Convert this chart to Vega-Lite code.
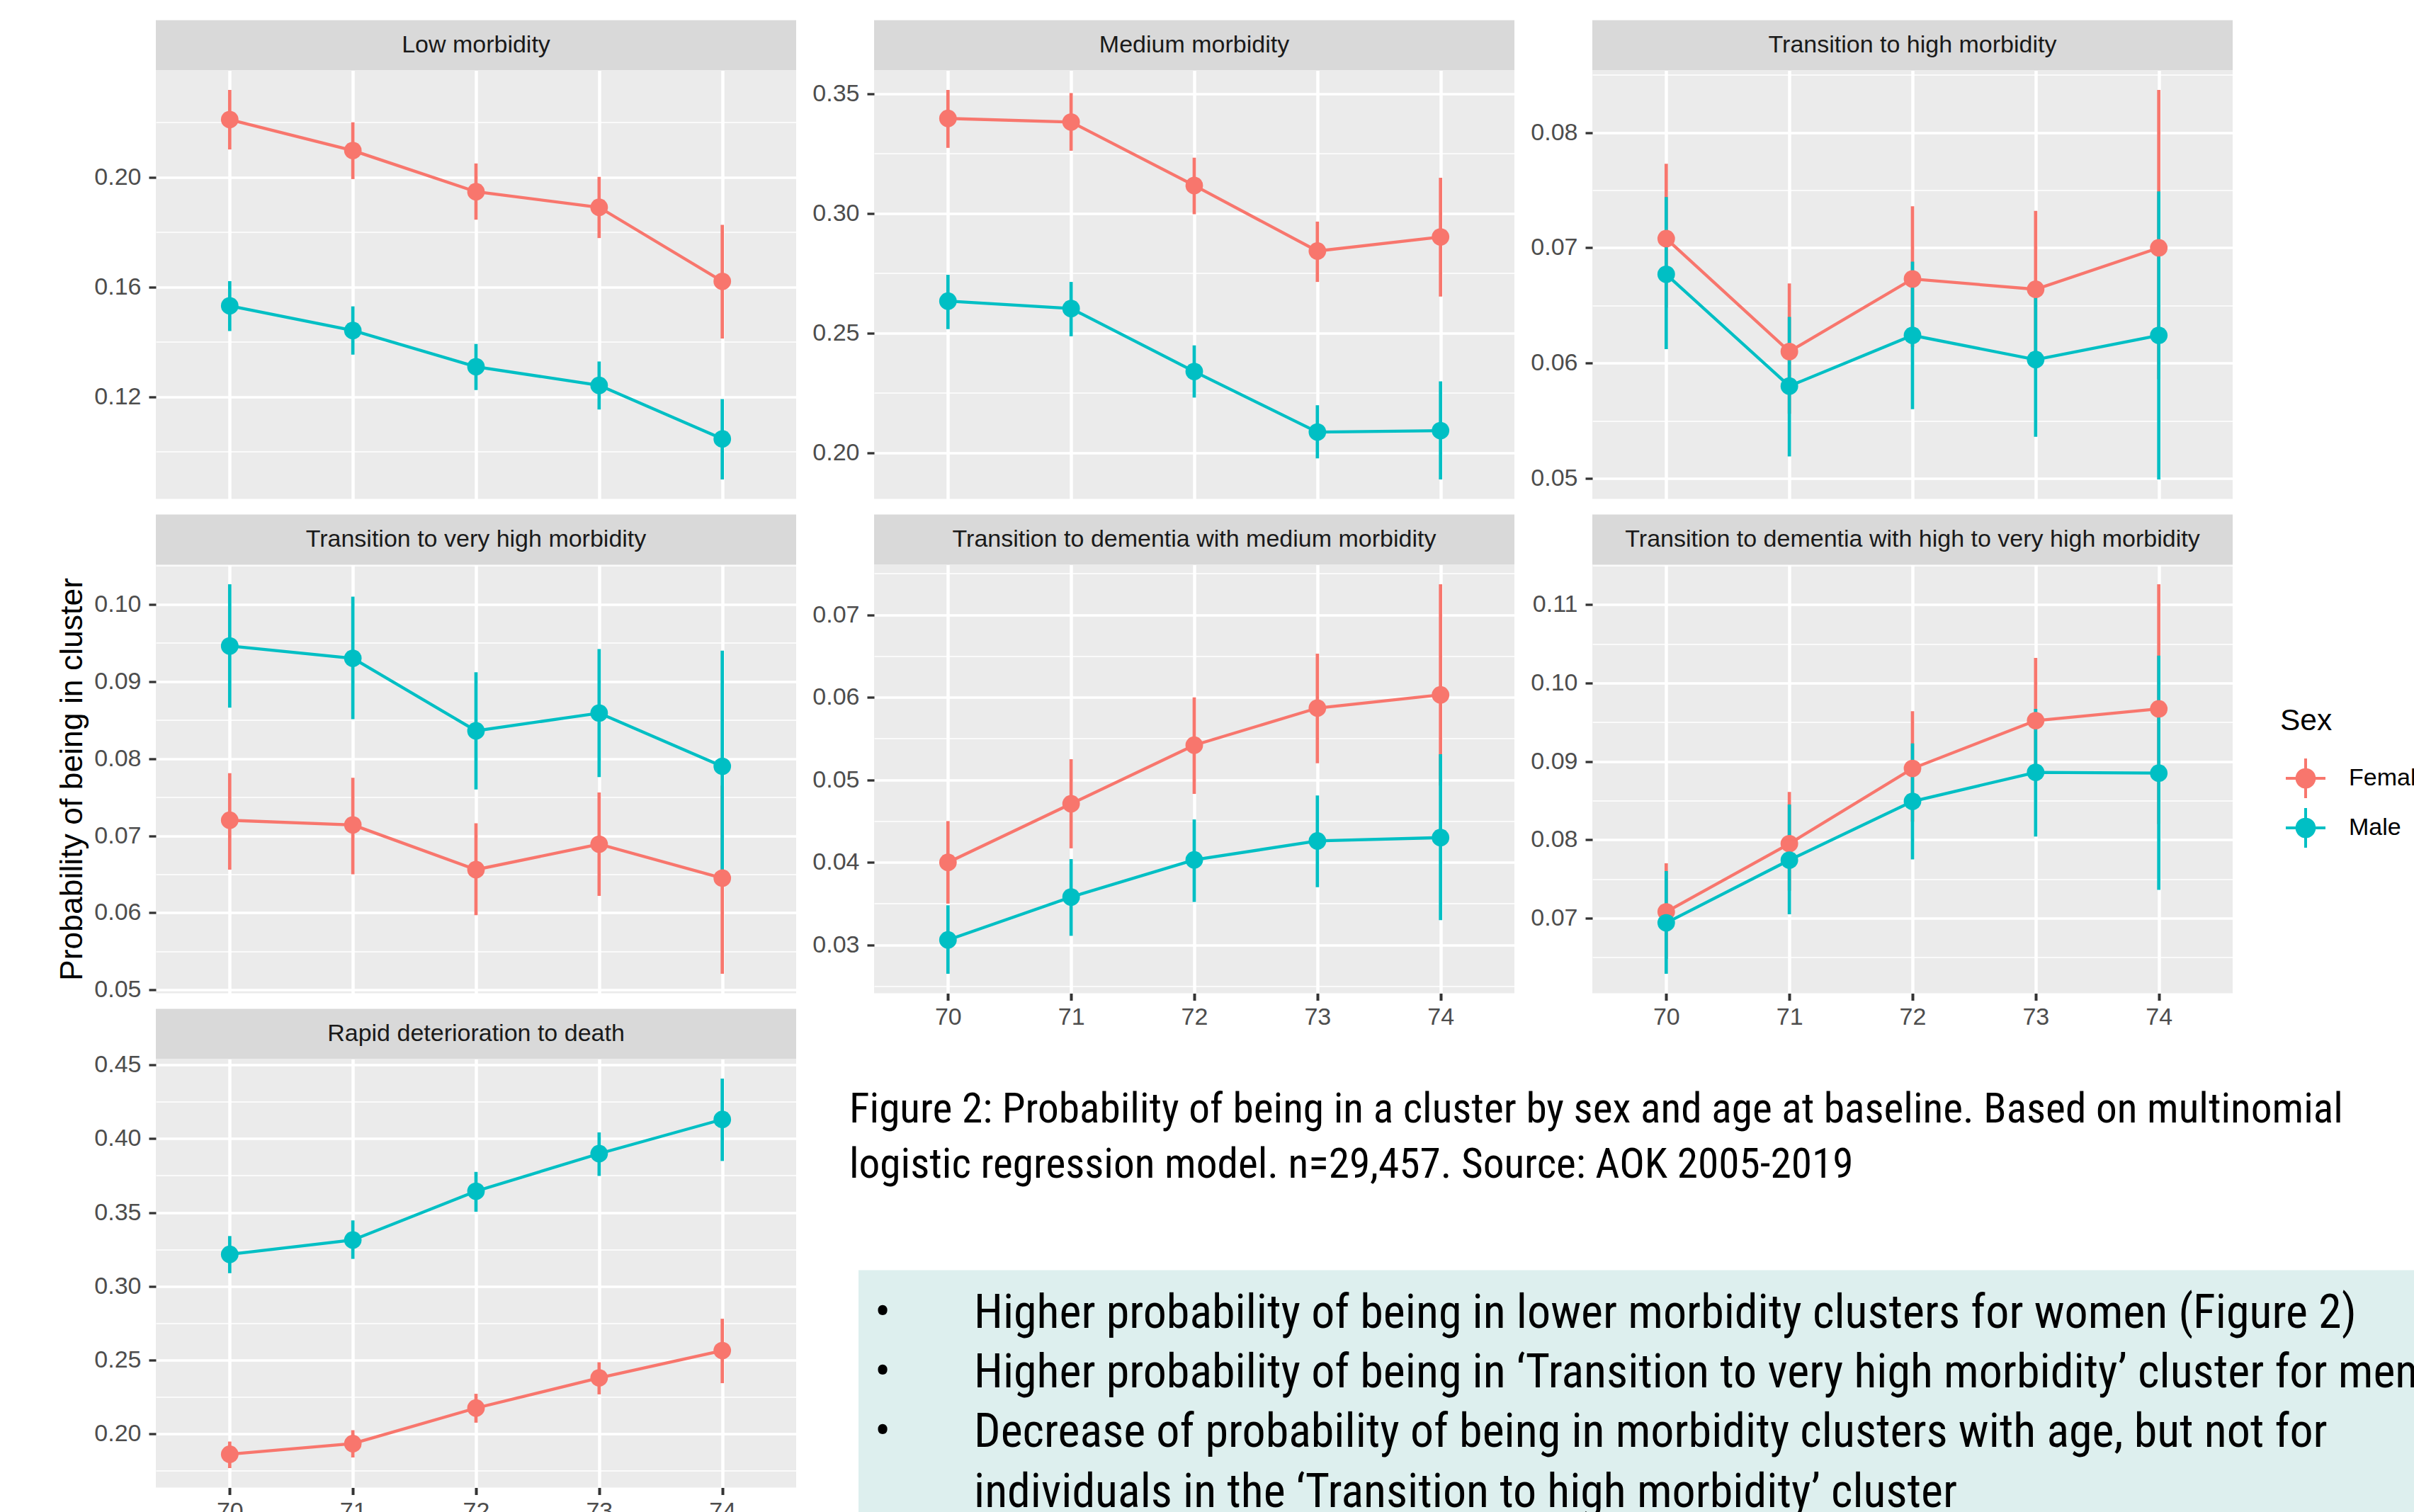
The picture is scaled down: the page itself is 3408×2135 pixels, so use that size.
{
  "$schema": "https://vega.github.io/schema/vega-lite/v6.json",
  "background": "white",
  "padding": {"left": 79, "top": 28.5, "right": 0, "bottom": 0},
  "autosize": {"type": "pad"},
  "config": {
    "view": {"stroke": null},
    "font": "Liberation Sans",
    "axis": {"domain": false, "gridColor": "white", "tickColor": "#333333", "labelColor": "#4D4D4D", "labelFontSize": 34, "labelFont": "Liberation Sans", "titleFont": "Liberation Sans", "titleFontWeight": "normal", "titleFontSize": 44.5, "titleColor": "black"},
    "axisX": {"gridWidth": 4.5, "tickWidth": 4, "tickSize": 10, "labelPadding": 7},
    "axisY": {"tickWidth": 3.3, "tickSize": 10, "labelPadding": 11}
  },
  "datasets": {
    "d": [
      {"Cluster": "Low morbidity", "Sex": "Female", "age": 70, "p": 0.2210, "lo": 0.2101, "hi": 0.2318},
      {"Cluster": "Low morbidity", "Sex": "Female", "age": 71, "p": 0.2097, "lo": 0.1993, "hi": 0.2200},
      {"Cluster": "Low morbidity", "Sex": "Female", "age": 72, "p": 0.1947, "lo": 0.1845, "hi": 0.2050},
      {"Cluster": "Low morbidity", "Sex": "Female", "age": 73, "p": 0.1890, "lo": 0.1778, "hi": 0.2001},
      {"Cluster": "Low morbidity", "Sex": "Female", "age": 74, "p": 0.1620, "lo": 0.1412, "hi": 0.1826},
      {"Cluster": "Low morbidity", "Sex": "Male", "age": 70, "p": 0.1531, "lo": 0.1439, "hi": 0.1621},
      {"Cluster": "Low morbidity", "Sex": "Male", "age": 71, "p": 0.1441, "lo": 0.1353, "hi": 0.1529},
      {"Cluster": "Low morbidity", "Sex": "Male", "age": 72, "p": 0.1309, "lo": 0.1224, "hi": 0.1392},
      {"Cluster": "Low morbidity", "Sex": "Male", "age": 73, "p": 0.1241, "lo": 0.1153, "hi": 0.1328},
      {"Cluster": "Low morbidity", "Sex": "Male", "age": 74, "p": 0.1046, "lo": 0.0898, "hi": 0.1191},

      {"Cluster": "Medium morbidity", "Sex": "Female", "age": 70, "p": 0.3397, "lo": 0.3274, "hi": 0.3516},
      {"Cluster": "Medium morbidity", "Sex": "Female", "age": 71, "p": 0.3382, "lo": 0.3262, "hi": 0.3503},
      {"Cluster": "Medium morbidity", "Sex": "Female", "age": 72, "p": 0.3117, "lo": 0.2997, "hi": 0.3233},
      {"Cluster": "Medium morbidity", "Sex": "Female", "age": 73, "p": 0.2843, "lo": 0.2714, "hi": 0.2966},
      {"Cluster": "Medium morbidity", "Sex": "Female", "age": 74, "p": 0.2902, "lo": 0.2653, "hi": 0.3149},
      {"Cluster": "Medium morbidity", "Sex": "Male", "age": 70, "p": 0.2634, "lo": 0.2517, "hi": 0.2744},
      {"Cluster": "Medium morbidity", "Sex": "Male", "age": 71, "p": 0.2603, "lo": 0.2487, "hi": 0.2714},
      {"Cluster": "Medium morbidity", "Sex": "Male", "age": 72, "p": 0.2340, "lo": 0.2231, "hi": 0.2449},
      {"Cluster": "Medium morbidity", "Sex": "Male", "age": 73, "p": 0.2087, "lo": 0.1977, "hi": 0.2199},
      {"Cluster": "Medium morbidity", "Sex": "Male", "age": 74, "p": 0.2093, "lo": 0.1889, "hi": 0.2299},

      {"Cluster": "Transition to high morbidity", "Sex": "Female", "age": 70, "p": 0.0708, "lo": 0.0648, "hi": 0.0773},
      {"Cluster": "Transition to high morbidity", "Sex": "Female", "age": 71, "p": 0.0610, "lo": 0.0556, "hi": 0.0669},
      {"Cluster": "Transition to high morbidity", "Sex": "Female", "age": 72, "p": 0.0673, "lo": 0.0614, "hi": 0.0736},
      {"Cluster": "Transition to high morbidity", "Sex": "Female", "age": 73, "p": 0.0664, "lo": 0.0604, "hi": 0.0732},
      {"Cluster": "Transition to high morbidity", "Sex": "Female", "age": 74, "p": 0.0700, "lo": 0.0586, "hi": 0.0837},
      {"Cluster": "Transition to high morbidity", "Sex": "Male", "age": 70, "p": 0.0677, "lo": 0.0612, "hi": 0.0744},
      {"Cluster": "Transition to high morbidity", "Sex": "Male", "age": 71, "p": 0.0580, "lo": 0.0519, "hi": 0.0640},
      {"Cluster": "Transition to high morbidity", "Sex": "Male", "age": 72, "p": 0.0624, "lo": 0.0560, "hi": 0.0688},
      {"Cluster": "Transition to high morbidity", "Sex": "Male", "age": 73, "p": 0.0603, "lo": 0.0536, "hi": 0.0670},
      {"Cluster": "Transition to high morbidity", "Sex": "Male", "age": 74, "p": 0.0624, "lo": 0.0499, "hi": 0.0749},

      {"Cluster": "Transition to very high morbidity", "Sex": "Female", "age": 70, "p": 0.0720, "lo": 0.0656, "hi": 0.0781},
      {"Cluster": "Transition to very high morbidity", "Sex": "Female", "age": 71, "p": 0.0714, "lo": 0.0650, "hi": 0.0775},
      {"Cluster": "Transition to very high morbidity", "Sex": "Female", "age": 72, "p": 0.0656, "lo": 0.0597, "hi": 0.0716},
      {"Cluster": "Transition to very high morbidity", "Sex": "Female", "age": 73, "p": 0.0689, "lo": 0.0622, "hi": 0.0756},
      {"Cluster": "Transition to very high morbidity", "Sex": "Female", "age": 74, "p": 0.0645, "lo": 0.0521, "hi": 0.0765},
      {"Cluster": "Transition to very high morbidity", "Sex": "Male", "age": 70, "p": 0.0946, "lo": 0.0866, "hi": 0.1026},
      {"Cluster": "Transition to very high morbidity", "Sex": "Male", "age": 71, "p": 0.0930, "lo": 0.0851, "hi": 0.1010},
      {"Cluster": "Transition to very high morbidity", "Sex": "Male", "age": 72, "p": 0.0836, "lo": 0.0760, "hi": 0.0912},
      {"Cluster": "Transition to very high morbidity", "Sex": "Male", "age": 73, "p": 0.0859, "lo": 0.0776, "hi": 0.0942},
      {"Cluster": "Transition to very high morbidity", "Sex": "Male", "age": 74, "p": 0.0790, "lo": 0.0656, "hi": 0.0940},

      {"Cluster": "Transition to dementia with medium morbidity", "Sex": "Female", "age": 70, "p": 0.0400, "lo": 0.0350, "hi": 0.0450},
      {"Cluster": "Transition to dementia with medium morbidity", "Sex": "Female", "age": 71, "p": 0.0471, "lo": 0.0417, "hi": 0.0525},
      {"Cluster": "Transition to dementia with medium morbidity", "Sex": "Female", "age": 72, "p": 0.0542, "lo": 0.0483, "hi": 0.0600},
      {"Cluster": "Transition to dementia with medium morbidity", "Sex": "Female", "age": 73, "p": 0.0587, "lo": 0.0520, "hi": 0.0653},
      {"Cluster": "Transition to dementia with medium morbidity", "Sex": "Female", "age": 74, "p": 0.0603, "lo": 0.0493, "hi": 0.0737},
      {"Cluster": "Transition to dementia with medium morbidity", "Sex": "Male", "age": 70, "p": 0.0306, "lo": 0.0265, "hi": 0.0348},
      {"Cluster": "Transition to dementia with medium morbidity", "Sex": "Male", "age": 71, "p": 0.0358, "lo": 0.0311, "hi": 0.0404},
      {"Cluster": "Transition to dementia with medium morbidity", "Sex": "Male", "age": 72, "p": 0.0403, "lo": 0.0352, "hi": 0.0452},
      {"Cluster": "Transition to dementia with medium morbidity", "Sex": "Male", "age": 73, "p": 0.0426, "lo": 0.0370, "hi": 0.0481},
      {"Cluster": "Transition to dementia with medium morbidity", "Sex": "Male", "age": 74, "p": 0.0430, "lo": 0.0330, "hi": 0.0531},

      {"Cluster": "Transition to dementia with high to very high morbidity", "Sex": "Female", "age": 70, "p": 0.0708, "lo": 0.0648, "hi": 0.0770},
      {"Cluster": "Transition to dementia with high to very high morbidity", "Sex": "Female", "age": 71, "p": 0.0795, "lo": 0.0735, "hi": 0.0861},
      {"Cluster": "Transition to dementia with high to very high morbidity", "Sex": "Female", "age": 72, "p": 0.0891, "lo": 0.0823, "hi": 0.0964},
      {"Cluster": "Transition to dementia with high to very high morbidity", "Sex": "Female", "age": 73, "p": 0.0952, "lo": 0.0875, "hi": 0.1032},
      {"Cluster": "Transition to dementia with high to very high morbidity", "Sex": "Female", "age": 74, "p": 0.0967, "lo": 0.0820, "hi": 0.1126},
      {"Cluster": "Transition to dementia with high to very high morbidity", "Sex": "Male", "age": 70, "p": 0.0694, "lo": 0.0629, "hi": 0.0760},
      {"Cluster": "Transition to dementia with high to very high morbidity", "Sex": "Male", "age": 71, "p": 0.0774, "lo": 0.0705, "hi": 0.0845},
      {"Cluster": "Transition to dementia with high to very high morbidity", "Sex": "Male", "age": 72, "p": 0.0849, "lo": 0.0775, "hi": 0.0923},
      {"Cluster": "Transition to dementia with high to very high morbidity", "Sex": "Male", "age": 73, "p": 0.0886, "lo": 0.0804, "hi": 0.0967},
      {"Cluster": "Transition to dementia with high to very high morbidity", "Sex": "Male", "age": 74, "p": 0.0885, "lo": 0.0736, "hi": 0.1035},

      {"Cluster": "Rapid deterioration to death", "Sex": "Female", "age": 70, "p": 0.1860, "lo": 0.1766, "hi": 0.1946},
      {"Cluster": "Rapid deterioration to death", "Sex": "Female", "age": 71, "p": 0.1932, "lo": 0.1838, "hi": 0.2023},
      {"Cluster": "Rapid deterioration to death", "Sex": "Female", "age": 72, "p": 0.2173, "lo": 0.2074, "hi": 0.2270},
      {"Cluster": "Rapid deterioration to death", "Sex": "Female", "age": 73, "p": 0.2378, "lo": 0.2266, "hi": 0.2484},
      {"Cluster": "Rapid deterioration to death", "Sex": "Female", "age": 74, "p": 0.2563, "lo": 0.2342, "hi": 0.2779},
      {"Cluster": "Rapid deterioration to death", "Sex": "Male", "age": 70, "p": 0.3216, "lo": 0.3088, "hi": 0.3340},
      {"Cluster": "Rapid deterioration to death", "Sex": "Male", "age": 71, "p": 0.3313, "lo": 0.3185, "hi": 0.3446},
      {"Cluster": "Rapid deterioration to death", "Sex": "Male", "age": 72, "p": 0.3644, "lo": 0.3505, "hi": 0.3775},
      {"Cluster": "Rapid deterioration to death", "Sex": "Male", "age": 73, "p": 0.3899, "lo": 0.3748, "hi": 0.4043},
      {"Cluster": "Rapid deterioration to death", "Sex": "Male", "age": 74, "p": 0.4131, "lo": 0.3849, "hi": 0.4408}
    ]
  },
  "vconcat": [
    {
      "hconcat": [
        {
          "vconcat": [
            {"width": 904, "height": 71, "view": {"fill": "#D9D9D9", "stroke": null}, "data": {"values": [{"label": "Low morbidity"}]}, "mark": {"type": "text", "font": "Liberation Sans", "fontSize": 34, "color": "#1A1A1A"}, "encoding": {"text": {"field": "label", "type": "nominal"}}},
            {
              "width": 904, "height": 605, "view": {"fill": "#EBEBEB", "stroke": null},
              "data": {"name": "d"},
              "transform": [{"filter": "datum.Cluster === 'Low morbidity'"}],
              "encoding": {
                "x": {"field": "age", "type": "quantitative", "scale": {"domain": [69.4, 74.6], "nice": false, "zero": false}, "axis": {"values": [70, 71, 72, 73, 74], "title": null, "labels": false, "ticks": false, "grid": true}},
                "y": {"field": "p", "type": "quantitative", "scale": {"zero": false, "nice": false, "padding": 27.5}, "axis": {"values": [0.10, 0.12, 0.14, 0.16, 0.18, 0.20, 0.22], "title": null, "labelExpr": "round(datum.value*1000) % 40 == 0 ? format(datum.value, '.2f') : ''", "gridWidth": {"condition": {"test": "round(datum.value*1000) % 40 == 0", "value": 3.3}, "value": 1.7}, "tickOpacity": {"condition": {"test": "round(datum.value*1000) % 40 == 0", "value": 1}, "value": 0}}},
                "color": {"field": "Sex", "type": "nominal", "scale": {"domain": ["Female", "Male"], "range": ["#F8766D", "#00BFC4"]},
                  "legend": {"orient": "none", "legendX": 2999, "legendY": 968, "symbolType": "M-1,0L1,0M0,-1L0,1M0.44,0A0.44,0.44,0,1,1,-0.44,0A0.44,0.44,0,1,1,0.44,0Z", "symbolSize": 3136, "symbolStrokeWidth": 4, "symbolOffset": 6, "labelOffset": 31, "labelFontSize": 34, "labelColor": "black", "labelFont": "Liberation Sans", "titleFontSize": 42.5, "titleFont": "Liberation Sans", "titleFontWeight": "normal", "titleColor": "black", "titlePadding": 30, "rowPadding": -2, "padding": 0,
                    "encode": {"symbols": {"update": {"fill": {"scale": "color", "field": "value"}, "stroke": {"scale": "color", "field": "value"}, "strokeWidth": {"value": 4}, "opacity": {"value": 1}, "fillOpacity": {"value": 1}, "strokeOpacity": {"value": 1}}}}}}
              },
              "layer": [
                {"mark": {"type": "rule", "strokeWidth": 4.7}, "encoding": {"y": {"field": "lo", "type": "quantitative", "scale": {"zero": false, "nice": false, "padding": 27.5}}, "y2": {"field": "hi"}}},
                {"mark": {"type": "line", "strokeWidth": 4.3}, "encoding": {}},
                {"mark": {"type": "point", "filled": true, "size": 615, "opacity": 1}, "encoding": {}}
              ]
            }
          ],
          "spacing": 0, "bounds": "flush"
        },
        {
          "vconcat": [
            {"width": 904, "height": 71, "view": {"fill": "#D9D9D9", "stroke": null}, "data": {"values": [{"label": "Medium morbidity"}]}, "mark": {"type": "text", "font": "Liberation Sans", "fontSize": 34, "color": "#1A1A1A"}, "encoding": {"text": {"field": "label", "type": "nominal"}}},
            {
              "width": 904, "height": 605, "view": {"fill": "#EBEBEB", "stroke": null},
              "data": {"name": "d"},
              "transform": [{"filter": "datum.Cluster === 'Medium morbidity'"}],
              "encoding": {
                "x": {"field": "age", "type": "quantitative", "scale": {"domain": [69.4, 74.6], "nice": false, "zero": false}, "axis": {"values": [70, 71, 72, 73, 74], "title": null, "labels": false, "ticks": false, "grid": true}},
                "y": {"field": "p", "type": "quantitative", "scale": {"zero": false, "nice": false, "padding": 27.5}, "axis": {"values": [0.175, 0.20, 0.225, 0.25, 0.275, 0.30, 0.325, 0.35, 0.375], "title": null, "labelExpr": "round(datum.value*1000) % 50 == 0 ? format(datum.value, '.2f') : ''", "gridWidth": {"condition": {"test": "round(datum.value*1000) % 50 == 0", "value": 3.3}, "value": 1.7}, "tickOpacity": {"condition": {"test": "round(datum.value*1000) % 50 == 0", "value": 1}, "value": 0}}},
                "color": {"field": "Sex", "type": "nominal", "scale": {"domain": ["Female", "Male"], "range": ["#F8766D", "#00BFC4"]}, "legend": null}
              },
              "layer": [
                {"mark": {"type": "rule", "strokeWidth": 4.7}, "encoding": {"y": {"field": "lo", "type": "quantitative", "scale": {"zero": false, "nice": false, "padding": 27.5}}, "y2": {"field": "hi"}}},
                {"mark": {"type": "line", "strokeWidth": 4.3}, "encoding": {}},
                {"mark": {"type": "point", "filled": true, "size": 615, "opacity": 1}, "encoding": {}}
              ]
            }
          ],
          "spacing": 0, "bounds": "flush"
        },
        {
          "vconcat": [
            {"width": 904, "height": 71, "view": {"fill": "#D9D9D9", "stroke": null}, "data": {"values": [{"label": "Transition to high morbidity"}]}, "mark": {"type": "text", "font": "Liberation Sans", "fontSize": 34, "color": "#1A1A1A"}, "encoding": {"text": {"field": "label", "type": "nominal"}}},
            {
              "width": 904, "height": 605, "view": {"fill": "#EBEBEB", "stroke": null},
              "data": {"name": "d"},
              "transform": [{"filter": "datum.Cluster === 'Transition to high morbidity'"}],
              "encoding": {
                "x": {"field": "age", "type": "quantitative", "scale": {"domain": [69.4, 74.6], "nice": false, "zero": false}, "axis": {"values": [70, 71, 72, 73, 74], "title": null, "labels": false, "ticks": false, "grid": true}},
                "y": {"field": "p", "type": "quantitative", "scale": {"zero": false, "nice": false, "padding": 27.5}, "axis": {"values": [0.045, 0.05, 0.055, 0.06, 0.065, 0.07, 0.075, 0.08, 0.085], "title": null, "labelExpr": "round(datum.value*1000) % 10 == 0 ? format(datum.value, '.2f') : ''", "gridWidth": {"condition": {"test": "round(datum.value*1000) % 10 == 0", "value": 3.3}, "value": 1.7}, "tickOpacity": {"condition": {"test": "round(datum.value*1000) % 10 == 0", "value": 1}, "value": 0}}},
                "color": {"field": "Sex", "type": "nominal", "scale": {"domain": ["Female", "Male"], "range": ["#F8766D", "#00BFC4"]}, "legend": null}
              },
              "layer": [
                {"mark": {"type": "rule", "strokeWidth": 4.7}, "encoding": {"y": {"field": "lo", "type": "quantitative", "scale": {"zero": false, "nice": false, "padding": 27.5}}, "y2": {"field": "hi"}}},
                {"mark": {"type": "line", "strokeWidth": 4.3}, "encoding": {}},
                {"mark": {"type": "point", "filled": true, "size": 615, "opacity": 1}, "encoding": {}}
              ]
            }
          ],
          "spacing": 0, "bounds": "flush"
        }
      ],
      "spacing": 1014, "bounds": "flush"
    },
    {
      "hconcat": [
        {
          "vconcat": [
            {"width": 904, "height": 71, "view": {"fill": "#D9D9D9", "stroke": null}, "data": {"values": [{"label": "Transition to very high morbidity"}]}, "mark": {"type": "text", "font": "Liberation Sans", "fontSize": 34, "color": "#1A1A1A"}, "encoding": {"text": {"field": "label", "type": "nominal"}}},
            {
              "width": 904, "height": 605, "view": {"fill": "#EBEBEB", "stroke": null},
              "data": {"name": "d"},
              "transform": [{"filter": "datum.Cluster === 'Transition to very high morbidity'"}],
              "encoding": {
                "x": {"field": "age", "type": "quantitative", "scale": {"domain": [69.4, 74.6], "nice": false, "zero": false}, "axis": {"values": [70, 71, 72, 73, 74], "title": null, "labels": false, "ticks": false, "grid": true}},
                "y": {"field": "p", "type": "quantitative", "scale": {"zero": false, "nice": false, "padding": 27.5}, "axis": {"values": [0.045, 0.05, 0.055, 0.06, 0.065, 0.07, 0.075, 0.08, 0.085, 0.09, 0.095, 0.10, 0.105], "title": "Probability of being in cluster", "titlePadding": 8, "labelExpr": "round(datum.value*1000) % 10 == 0 ? format(datum.value, '.2f') : ''", "gridWidth": {"condition": {"test": "round(datum.value*1000) % 10 == 0", "value": 3.3}, "value": 1.7}, "tickOpacity": {"condition": {"test": "round(datum.value*1000) % 10 == 0", "value": 1}, "value": 0}}},
                "color": {"field": "Sex", "type": "nominal", "scale": {"domain": ["Female", "Male"], "range": ["#F8766D", "#00BFC4"]}, "legend": null}
              },
              "layer": [
                {"mark": {"type": "rule", "strokeWidth": 4.7}, "encoding": {"y": {"field": "lo", "type": "quantitative", "scale": {"zero": false, "nice": false, "padding": 27.5}}, "y2": {"field": "hi"}}},
                {"mark": {"type": "line", "strokeWidth": 4.3}, "encoding": {}},
                {"mark": {"type": "point", "filled": true, "size": 615, "opacity": 1}, "encoding": {}}
              ]
            }
          ],
          "spacing": 0, "bounds": "flush"
        },
        {
          "vconcat": [
            {"width": 904, "height": 71, "view": {"fill": "#D9D9D9", "stroke": null}, "data": {"values": [{"label": "Transition to dementia with medium morbidity"}]}, "mark": {"type": "text", "font": "Liberation Sans", "fontSize": 34, "color": "#1A1A1A"}, "encoding": {"text": {"field": "label", "type": "nominal"}}},
            {
              "width": 904, "height": 605, "view": {"fill": "#EBEBEB", "stroke": null},
              "data": {"name": "d"},
              "transform": [{"filter": "datum.Cluster === 'Transition to dementia with medium morbidity'"}],
              "encoding": {
                "x": {"field": "age", "type": "quantitative", "scale": {"domain": [69.4, 74.6], "nice": false, "zero": false}, "axis": {"values": [70, 71, 72, 73, 74], "format": "d", "title": null, "labels": true, "ticks": true, "grid": true}},
                "y": {"field": "p", "type": "quantitative", "scale": {"zero": false, "nice": false, "padding": 27.5}, "axis": {"values": [0.025, 0.03, 0.035, 0.04, 0.045, 0.05, 0.055, 0.06, 0.065, 0.07, 0.075], "title": null, "labelExpr": "round(datum.value*1000) % 10 == 0 ? format(datum.value, '.2f') : ''", "gridWidth": {"condition": {"test": "round(datum.value*1000) % 10 == 0", "value": 3.3}, "value": 1.7}, "tickOpacity": {"condition": {"test": "round(datum.value*1000) % 10 == 0", "value": 1}, "value": 0}}},
                "color": {"field": "Sex", "type": "nominal", "scale": {"domain": ["Female", "Male"], "range": ["#F8766D", "#00BFC4"]}, "legend": null}
              },
              "layer": [
                {"mark": {"type": "rule", "strokeWidth": 4.7}, "encoding": {"y": {"field": "lo", "type": "quantitative", "scale": {"zero": false, "nice": false, "padding": 27.5}}, "y2": {"field": "hi"}}},
                {"mark": {"type": "line", "strokeWidth": 4.3}, "encoding": {}},
                {"mark": {"type": "point", "filled": true, "size": 615, "opacity": 1}, "encoding": {}}
              ]
            }
          ],
          "spacing": 0, "bounds": "flush"
        },
        {
          "vconcat": [
            {"width": 904, "height": 71, "view": {"fill": "#D9D9D9", "stroke": null}, "data": {"values": [{"label": "Transition to dementia with high to very high morbidity"}]}, "mark": {"type": "text", "font": "Liberation Sans", "fontSize": 34, "color": "#1A1A1A"}, "encoding": {"text": {"field": "label", "type": "nominal"}}},
            {
              "width": 904, "height": 605, "view": {"fill": "#EBEBEB", "stroke": null},
              "data": {"name": "d"},
              "transform": [{"filter": "datum.Cluster === 'Transition to dementia with high to very high morbidity'"}],
              "encoding": {
                "x": {"field": "age", "type": "quantitative", "scale": {"domain": [69.4, 74.6], "nice": false, "zero": false}, "axis": {"values": [70, 71, 72, 73, 74], "format": "d", "title": null, "labels": true, "ticks": true, "grid": true}},
                "y": {"field": "p", "type": "quantitative", "scale": {"zero": false, "nice": false, "padding": 27.5}, "axis": {"values": [0.065, 0.07, 0.075, 0.08, 0.085, 0.09, 0.095, 0.10, 0.105, 0.11, 0.115], "title": null, "labelExpr": "round(datum.value*1000) % 10 == 0 ? format(datum.value, '.2f') : ''", "gridWidth": {"condition": {"test": "round(datum.value*1000) % 10 == 0", "value": 3.3}, "value": 1.7}, "tickOpacity": {"condition": {"test": "round(datum.value*1000) % 10 == 0", "value": 1}, "value": 0}}},
                "color": {"field": "Sex", "type": "nominal", "scale": {"domain": ["Female", "Male"], "range": ["#F8766D", "#00BFC4"]}, "legend": null}
              },
              "layer": [
                {"mark": {"type": "rule", "strokeWidth": 4.7}, "encoding": {"y": {"field": "lo", "type": "quantitative", "scale": {"zero": false, "nice": false, "padding": 27.5}}, "y2": {"field": "hi"}}},
                {"mark": {"type": "line", "strokeWidth": 4.3}, "encoding": {}},
                {"mark": {"type": "point", "filled": true, "size": 615, "opacity": 1}, "encoding": {}}
              ]
            }
          ],
          "spacing": 0, "bounds": "flush"
        }
      ],
      "spacing": 1014, "bounds": "flush"
    },
    {
      "hconcat": [
        {
          "vconcat": [
            {"width": 904, "height": 71, "view": {"fill": "#D9D9D9", "stroke": null}, "data": {"values": [{"label": "Rapid deterioration to death"}]}, "mark": {"type": "text", "font": "Liberation Sans", "fontSize": 34, "color": "#1A1A1A"}, "encoding": {"text": {"field": "label", "type": "nominal"}}},
            {
              "width": 904, "height": 605, "view": {"fill": "#EBEBEB", "stroke": null},
              "data": {"name": "d"},
              "transform": [{"filter": "datum.Cluster === 'Rapid deterioration to death'"}],
              "encoding": {
                "x": {"field": "age", "type": "quantitative", "scale": {"domain": [69.4, 74.6], "nice": false, "zero": false}, "axis": {"values": [70, 71, 72, 73, 74], "format": "d", "title": null, "labels": true, "ticks": true, "grid": true}},
                "y": {"field": "p", "type": "quantitative", "scale": {"zero": false, "nice": false, "padding": 27.5}, "axis": {"values": [0.175, 0.20, 0.225, 0.25, 0.275, 0.30, 0.325, 0.35, 0.375, 0.40, 0.425, 0.45], "title": null, "labelExpr": "round(datum.value*1000) % 50 == 0 ? format(datum.value, '.2f') : ''", "gridWidth": {"condition": {"test": "round(datum.value*1000) % 50 == 0", "value": 3.3}, "value": 1.7}, "tickOpacity": {"condition": {"test": "round(datum.value*1000) % 50 == 0", "value": 1}, "value": 0}}},
                "color": {"field": "Sex", "type": "nominal", "scale": {"domain": ["Female", "Male"], "range": ["#F8766D", "#00BFC4"]}, "legend": null}
              },
              "layer": [
                {"mark": {"type": "rule", "strokeWidth": 4.7}, "encoding": {"y": {"field": "lo", "type": "quantitative", "scale": {"zero": false, "nice": false, "padding": 27.5}}, "y2": {"field": "hi"}}},
                {"mark": {"type": "line", "strokeWidth": 4.3}, "encoding": {}},
                {"mark": {"type": "point", "filled": true, "size": 615, "opacity": 1}, "encoding": {}}
              ]
            }
          ],
          "spacing": 0, "bounds": "flush"
        },
        {
          "vconcat": [
            {
              "width": 2200, "height": 369,
              "data": {"values": [
                {"line": 1, "text": "Figure 2: Probability of being in a cluster by sex and age at baseline. Based on multinomial"},
                {"line": 2, "text": "logistic regression model. n=29,457. Source: AOK 2005-2019"}
              ]},
              "mark": {"type": "text", "align": "left", "baseline": "alphabetic", "font": "Liberation Sans Narrow, Arial Narrow, Roboto Condensed, DejaVu Sans Condensed, sans-serif", "fontSize": 59.3, "color": "black", "dx": -13},
              "encoding": {
                "x": {"datum": 0, "type": "quantitative", "scale": {"domain": [0, 1]}, "axis": null},
                "y": {"field": "line", "type": "ordinal", "scale": {"type": "point", "range": [160, 238], "padding": 0}, "axis": null},
                "text": {"field": "text", "type": "nominal"}
              }
            },
            {
              "width": 2200, "height": 400, "view": {"fill": "#DDEFEE", "stroke": null},
              "data": {"values": [
                {"line": 1, "col": "bullet", "text": "•"},
                {"line": 1, "col": "text", "text": "Higher probability of being in lower morbidity clusters for women (Figure 2)"},
                {"line": 2, "col": "bullet", "text": "•"},
                {"line": 2, "col": "text", "text": "Higher probability of being in ‘Transition to very high morbidity’ cluster for men"},
                {"line": 3, "col": "bullet", "text": "•"},
                {"line": 3, "col": "text", "text": "Decrease of probability of being in morbidity clusters with age, but not for"},
                {"line": 4, "col": "text", "text": "individuals in the ‘Transition to high morbidity’ cluster"}
              ]},
              "mark": {"type": "text", "align": "left", "baseline": "alphabetic", "font": "Liberation Sans Narrow, Arial Narrow, Roboto Condensed, DejaVu Sans Condensed, sans-serif", "fontSize": 66, "color": "black"},
              "encoding": {
                "x": {"field": "col", "type": "nominal", "scale": {"type": "point", "domain": ["bullet", "text"], "range": [23, 163], "padding": 0}, "axis": null},
                "y": {"field": "line", "type": "ordinal", "scale": {"type": "point", "range": [81, 334], "padding": 0}, "axis": null},
                "text": {"field": "text", "type": "nominal"}
              }
            }
          ],
          "spacing": 0, "bounds": "flush"
        }
      ],
      "spacing": 992, "bounds": "flush"
    }
  ],
  "spacing": 698, "bounds": "flush"
}
